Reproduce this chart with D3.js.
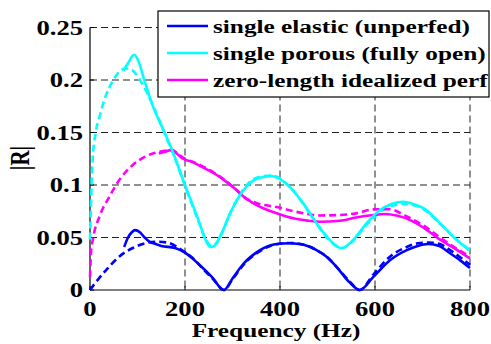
<!DOCTYPE html>
<html>
<head>
<meta charset="utf-8">
<script src="https://cdn.jsdelivr.net/npm/d3@7"></script>
<style>
  body { margin: 0; background: #fff; }
</style>
</head>
<body>
<div id="app"></div>
<script>
const elasticFreq = [72, 80, 88, 95, 105, 115, 125, 137, 150, 179, 200, 228, 256, 282, 300, 323, 358, 390, 421, 450, 477, 500, 519, 547, 568, 597, 632, 667, 690, 712, 735, 758, 780, 800];
const elasticMeas = [0.041, 0.050, 0.055, 0.057, 0.055, 0.050, 0.046, 0.044, 0.042, 0.040, 0.0355, 0.025, 0.0127, 0, 0.011, 0.025, 0.038, 0.0435, 0.0445, 0.043, 0.038, 0.031, 0.022, 0.007, 0, 0.0127, 0.0286, 0.038, 0.042, 0.0438, 0.042, 0.035, 0.028, 0.021];

const elasticModelFreq = [0, 10, 34, 62, 90, 116, 140, 165, 190, 215, 240, 260, 282, 300, 323, 358, 390, 421, 450, 477, 500, 519, 547, 568, 597, 632, 667, 690, 712, 735, 758, 780, 800];
const elasticModel = [0, 0.006, 0.019, 0.032, 0.040, 0.0445, 0.046, 0.045, 0.039, 0.031, 0.019, 0.010, 0, 0.010, 0.024, 0.037, 0.0435, 0.0448, 0.043, 0.038, 0.031, 0.022, 0.008, 0, 0.015, 0.032, 0.041, 0.0445, 0.0452, 0.044, 0.038, 0.031, 0.024];

const porousFreq = [70, 80, 88, 93, 100, 115, 130, 158, 173, 200, 228, 245, 253, 262, 275, 295, 323, 351, 382, 421, 449, 477, 505, 530, 554, 582, 610, 635, 659, 680, 702, 737, 772, 800];
const porousMeas = [0.209, 0.216, 0.222, 0.224, 0.220, 0.199, 0.178, 0.149, 0.133, 0.100, 0.067, 0.046, 0.041, 0.042, 0.052, 0.073, 0.095, 0.106, 0.1086, 0.098, 0.0825, 0.0635, 0.0476, 0.0397, 0.0476, 0.0635, 0.076, 0.082, 0.084, 0.082, 0.078, 0.0635, 0.0476, 0.038];

const porousModelFreq = [0, 2, 5, 12, 20, 34, 48, 62, 76, 90, 105, 120, 140, 160, 175, 200, 228, 245, 255, 265, 275, 295, 323, 351, 382, 421, 449, 477, 505, 530, 554, 582, 610, 635, 659, 680, 702, 737, 772, 800];
const porousModel = [0.048, 0.08, 0.12, 0.15, 0.165, 0.186, 0.199, 0.208, 0.211, 0.209, 0.200, 0.188, 0.168, 0.146, 0.130, 0.099, 0.066, 0.047, 0.042, 0.044, 0.052, 0.073, 0.096, 0.107, 0.109, 0.098, 0.082, 0.063, 0.047, 0.040, 0.047, 0.062, 0.074, 0.080, 0.082, 0.081, 0.077, 0.063, 0.048, 0.037];

const perfFreq = [145, 160, 172, 185, 196, 215, 232, 250, 267, 290, 309, 323, 350, 393, 430, 460, 484, 526, 560, 597, 620, 645, 667, 700, 737, 770, 800];
const perfMeas = [0.130, 0.132, 0.1335, 0.129, 0.125, 0.122, 0.118, 0.114, 0.1095, 0.102, 0.095, 0.089, 0.081, 0.073, 0.068, 0.066, 0.065, 0.066, 0.069, 0.0714, 0.0724, 0.071, 0.068, 0.060, 0.048, 0.039, 0.030];

const perfModelFreq = [0, 2, 6, 20, 41, 62, 90, 116, 140, 165, 172, 196, 232, 267, 309, 323, 350, 393, 450, 484, 526, 560, 597, 630, 667, 700, 737, 770, 800];
const perfModel = [0.012, 0.035, 0.048, 0.070, 0.089, 0.105, 0.119, 0.127, 0.131, 0.133, 0.133, 0.126, 0.119, 0.110, 0.095, 0.089, 0.083, 0.079, 0.073, 0.071, 0.0714, 0.073, 0.0768, 0.077, 0.070, 0.062, 0.050, 0.040, 0.032];

const xTicks = [0, 200, 400, 600, 800];
const yTicks = [0, 0.05, 0.1, 0.15, 0.2, 0.25];
const legendLabels = ["single elastic (unperfed)", "single porous (fully open)", "zero-length idealized perf"];
const colors = ["#0000ff", "#00ffff", "#ff00ff"];

const W = 491, H = 344;
const margin = {top: 27.5, right: 21, bottom: 54, left: 90};
const width = W - margin.left - margin.right,
      height = H - margin.top - margin.bottom;
const font = "'Liberation Serif', 'Times New Roman', Times, 'DejaVu Serif', serif";

const svg = d3.select("#app").append("svg")
    .attr("width", W)
    .attr("height", H)
    .style("font-family", font)
    .style("font-weight", "bold");

const g = svg.append("g")
    .attr("transform", `translate(${margin.left},${margin.top})`);

const x = d3.scaleLinear().domain([0, 800]).range([0, width]);
const y = d3.scaleLinear().domain([0, 0.25]).range([height, 0]);

// dashed grid
g.append("g").selectAll("line")
    .data(xTicks.slice(1))
    .join("line")
    .attr("x1", d => x(d)).attr("x2", d => x(d))
    .attr("y1", 0).attr("y2", height)
    .attr("stroke", "#222").attr("stroke-width", 1)
    .attr("stroke-dasharray", "7,4");

g.append("g").selectAll("line")
    .data(yTicks.slice(1))
    .join("line")
    .attr("x1", 0).attr("x2", width)
    .attr("y1", d => y(d)).attr("y2", d => y(d))
    .attr("stroke", "#222").attr("stroke-width", 1)
    .attr("stroke-dasharray", "7,4");

// axes lines + inward ticks
g.append("line").attr("x1", 0).attr("x2", 0).attr("y1", 0).attr("y2", height)
    .attr("stroke", "#000").attr("stroke-width", 1.2);
g.append("line").attr("x1", 0).attr("x2", width).attr("y1", height).attr("y2", height)
    .attr("stroke", "#000").attr("stroke-width", 1.2);

g.append("g").selectAll("line")
    .data(xTicks)
    .join("line")
    .attr("x1", d => x(d)).attr("x2", d => x(d))
    .attr("y1", height).attr("y2", height - 4)
    .attr("stroke", "#000");
g.append("g").selectAll("line")
    .data(yTicks)
    .join("line")
    .attr("x1", 0).attr("x2", 4)
    .attr("y1", d => y(d)).attr("y2", d => y(d))
    .attr("stroke", "#000");

// curves
const line = d3.line()
    .x(d => x(d[0]))
    .y(d => y(d[1]))
    .curve(d3.curveMonotoneX);

const series = [
    {f: elasticModelFreq, v: elasticModel, c: 0, dash: "7,4"},
    {f: porousModelFreq, v: porousModel, c: 1, dash: "7,4"},
    {f: perfModelFreq, v: perfModel, c: 2, dash: "7,4"},
    {f: perfFreq, v: perfMeas, c: 2, dash: null},
    {f: porousFreq, v: porousMeas, c: 1, dash: null},
    {f: elasticFreq, v: elasticMeas, c: 0, dash: null}
];

g.append("g").selectAll("path")
    .data(series)
    .join("path")
    .attr("d", s => line(d3.zip(s.f, s.v)))
    .attr("fill", "none")
    .attr("stroke", s => colors[s.c])
    .attr("stroke-width", 2.6)
    .attr("stroke-dasharray", s => s.dash);

// legend
const leg = svg.append("g");
leg.append("rect")
    .attr("x", 158).attr("y", 11)
    .attr("width", 331).attr("height", 86)
    .attr("fill", "#fff").attr("stroke", "#000").attr("stroke-width", 1.2);

const rows = leg.selectAll("g.row")
    .data(legendLabels)
    .join("g")
    .attr("class", "row")
    .attr("transform", (d, i) => `translate(0,${26 + i * 27})`);

rows.append("line")
    .attr("x1", 167).attr("x2", 208)
    .attr("stroke", (d, i) => colors[i])
    .attr("stroke-width", 2.6);

const legText = rows.append("text")
    .attr("font-size", 19)
    .attr("x", 0).attr("y", 0)
    .text(d => d);

// the original figure is stretched sideways; fit the first legend entry to its width
const natural = legText.node().getComputedTextLength();
const sx = 257 / natural;
legText.attr("transform", `translate(213,7) scale(${sx},1)`);

function stretchedText(sel, px, py, anchor) {
    sel.attr("text-anchor", anchor)
       .attr("transform", `translate(${px},${py}) scale(${sx},1)`);
}

// tick labels
g.append("g").selectAll("text")
    .data(xTicks)
    .join("text")
    .attr("font-size", 20)
    .text(d => d)
    .each(function(d) { stretchedText(d3.select(this), x(d), height + 26, "middle"); });

g.append("g").selectAll("text")
    .data(yTicks)
    .join("text")
    .attr("font-size", 20)
    .text(d => d)
    .each(function(d) { stretchedText(d3.select(this), -7, y(d) + 7, "end"); });

// axis titles
svg.append("text")
    .attr("font-size", 19)
    .attr("text-anchor", "middle")
    .attr("transform", `translate(${margin.left + width / 2 - 4},337) scale(${sx},1)`)
    .text("Frequency (Hz)");

svg.append("text")
    .attr("font-size", 21)
    .attr("text-anchor", "middle")
    .attr("transform", `translate(29,158) rotate(-90) scale(1,${sx})`)
    .text("|R|");
</script>
</body>
</html>
